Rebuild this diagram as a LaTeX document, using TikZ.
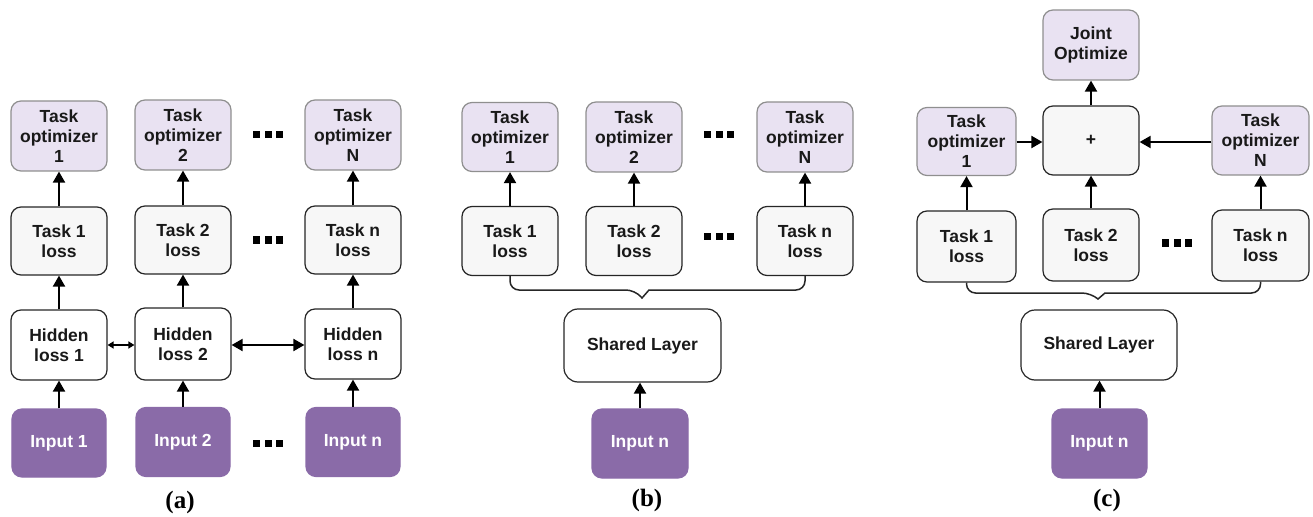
\documentclass[tikz,border=0pt]{standalone}
\usepackage{fontspec}
\setmainfont{Liberation Sans}
\newfontfamily\serifbold{Liberation Serif}
\usetikzlibrary{arrows.meta}
\definecolor{optc}{HTML}{E9E2F2}
\definecolor{optd}{HTML}{8F8F8F}
\definecolor{lossc}{HTML}{F7F7F7}
\definecolor{inc}{HTML}{8A6BA8}
\begin{document}
\begin{tikzpicture}[x=1bp,y=-1bp,
  box/.style={draw=black!85, line width=1.2bp, rounded corners=10bp, align=center, inner sep=0pt,
    minimum width=96bp, minimum height=70bp,
    font=\fontsize{17.5bp}{20bp}\selectfont\bfseries, text=black!90},
  optbox/.style={box, fill=optc, draw=optd},
  lossbox/.style={box, fill=lossc},
  hidbox/.style={box, fill=white},
  inbox/.style={box, fill=inc, draw=inc, text=white},
  lab/.style={font=\fontsize{25bp}{28bp}\selectfont\serifbold\bfseries, inner sep=0pt},
  arr/.style={line width=2bp, -{Triangle[length=11bp,width=12bp]}},
  dbl/.style={line width=2bp, {Triangle[length=11bp,width=12bp]}-{Triangle[length=11bp,width=12bp]}},
  sdbl/.style={line width=1.6bp, {Triangle[length=6bp,width=7bp]}-{Triangle[length=6bp,width=7bp]}},
  brace/.style={line width=1.5bp, draw=black!85},
  dotsq/.style={fill=black}
]
\useasboundingbox (0,0) rectangle (1313,517);

\newcommand{\dotrow}[2]{%
  \foreach \dx in {-11.5,0,11.5}{\fill[dotsq] (#1+\dx-3.5,#2-3.5) rectangle (#1+\dx+3.5,#2+3.5);}}

% ---------- (a) ----------
\node[optbox] (oa1) at (59,136) {Task\\optimizer\\1};
\node[optbox] (oa2) at (183,135) {Task\\optimizer\\2};
\node[optbox] (oaN) at (353,135) {Task\\optimizer\\N};
\node[lossbox, minimum height=68bp] (la1) at (59,241) {Task 1\\loss};
\node[lossbox, minimum height=68bp] (la2) at (183,240) {Task 2\\loss};
\node[lossbox, minimum height=68bp] (lan) at (353,240) {Task n\\loss};
\node[hidbox] (ha1) at (59,345) {Hidden\\loss 1};
\node[hidbox, minimum height=72bp] (ha2) at (183,344) {Hidden\\loss 2};
\node[hidbox] (han) at (353,344) {Hidden\\loss n};
\node[inbox, minimum width=94bp, minimum height=68bp] (ia1) at (59,443) {Input 1};
\node[inbox, minimum width=94bp, minimum height=69bp] (ia2) at (183,442) {Input 2};
\node[inbox, minimum width=94bp, minimum height=69bp] (ian) at (353,442) {Input n};
\dotrow{268}{135}
\dotrow{268}{240}
\dotrow{268}{443}
\foreach \i in {1,2,n}{
  \draw[arr] (ia\i) -- (ha\i);
  \draw[arr] (ha\i) -- (la\i);
}
\draw[arr] (la1) -- (oa1);
\draw[arr] (la2) -- (oa2);
\draw[arr] (lan) -- (oaN);
\draw[sdbl] (ha1.east |- 0,345) -- (ha2.west |- 0,345);
\draw[dbl] (ha2.east |- 0,345) -- (han.west |- 0,345);
\node[lab] (capa) at (180,502) {(a)};

% ---------- (b) ----------
\node[optbox, minimum height=69bp] (ob1) at (510,137) {Task\\optimizer\\1};
\node[optbox] (ob2) at (634,137) {Task\\optimizer\\2};
\node[optbox] (obN) at (805,137) {Task\\optimizer\\N};
\node[lossbox, minimum height=69bp] (lb1) at (510,241) {Task 1\\loss};
\node[lossbox, minimum height=69bp] (lb2) at (634,241) {Task 2\\loss};
\node[lossbox, minimum height=69bp] (lbn) at (805,241) {Task n\\loss};
\dotrow{719}{135}
\dotrow{719}{237}
\draw[arr] (lb1) -- (ob1);
\draw[arr] (lb2) -- (ob2);
\draw[arr] (lbn) -- (obN);
\draw[brace] (lb1.south) [rounded corners=9bp] |- (635,290) [sharp corners] -- (642,298) -- (649,290) [rounded corners=9bp] -| (lbn.south);
\node[hidbox, minimum width=157bp, minimum height=73bp, rounded corners=14bp] (sb) at (642.5,345.5) {Shared Layer};
\node[inbox, minimum width=96bp, minimum height=69bp] (ib) at (640,443.5) {Input n};
\draw[arr] (ib) -- (ib |- sb.south);
\node[lab] (capb) at (647,500) {(b)};

% ---------- (c) ----------
\node[optbox] (jo) at (1091,45) {Joint\\Optimize};
\node[lossbox, minimum height=69bp] (pl) at (1091,140.5) {+};
\node[optbox, minimum width=99bp, minimum height=68bp] (oc1) at (966.5,141.5) {Task\\optimizer\\1};
\node[optbox, minimum width=97bp, minimum height=69bp] (ocN) at (1260.5,140.5) {Task\\optimizer\\N};
\node[lossbox, minimum width=99bp, minimum height=71bp] (lc1) at (966.5,246.5) {Task 1\\loss};
\node[lossbox, minimum height=72bp] (lc2) at (1091,245) {Task 2\\loss};
\node[lossbox, minimum width=97bp, minimum height=71bp] (lcn) at (1260.5,245.5) {Task n\\loss};
\dotrow{1177}{243}
\draw[arr] (lc1) -- (oc1);
\draw[arr] (lcn) -- (ocN);
\draw[arr] (lc2) -- (pl);
\draw[arr] (pl) -- (jo);
\draw[arr] (oc1.east |- 0,142) -- (pl.west |- 0,142);
\draw[arr] (ocN.west |- 0,142) -- (pl.east |- 0,142);
\draw[brace] (lc1.south) [rounded corners=9bp] |- (1091,293) [sharp corners] -- (1098,299) -- (1105,293) [rounded corners=9bp] -| (lcn.south);
\node[hidbox, minimum width=156bp, minimum height=70bp, rounded corners=14bp] (sc) at (1099,345) {Shared Layer};
\node[inbox, minimum width=95bp, minimum height=69bp] (ic) at (1099.5,443.5) {Input n};
\draw[arr] (ic) -- (ic |- sc.south);
\node[lab] (capc) at (1107,500) {(c)};
\end{tikzpicture}
\end{document}
